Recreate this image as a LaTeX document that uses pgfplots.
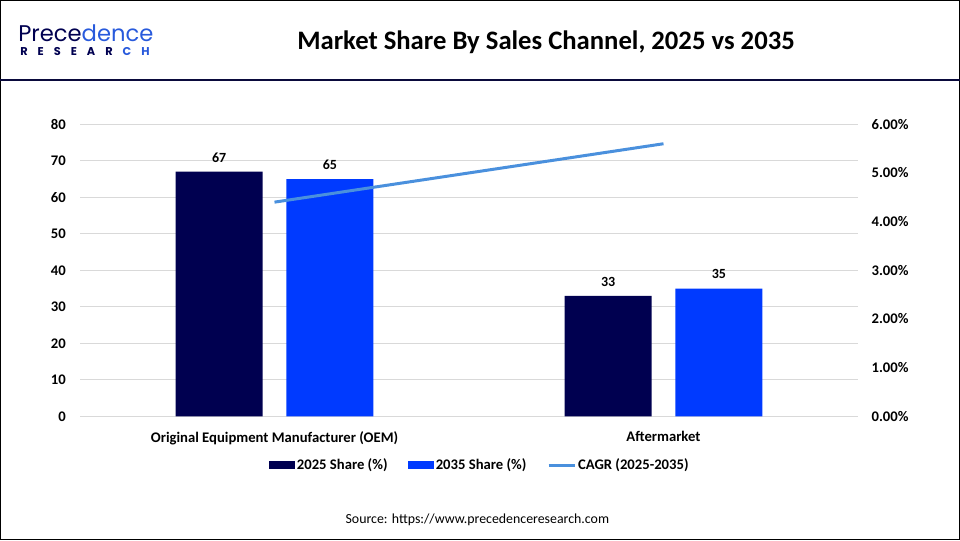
\documentclass[border=0pt]{standalone}
\usepackage{pgfplots}
\pgfplotsset{compat=1.18}
\usepackage{fontspec}
\setmainfont{Carlito}
\newfontfamily\logofont{Poppins}
\definecolor{navy}{RGB}{0,0,80}
\definecolor{brightblue}{RGB}{0,58,255}
\definecolor{linecol}{RGB}{74,144,221}
\definecolor{gridgray}{RGB}{217,217,217}
\definecolor{hdr}{RGB}{10,10,60}
\definecolor{logoblue}{RGB}{40,90,220}
\begin{document}
\begin{tikzpicture}
\useasboundingbox (0pt,0pt) rectangle (720pt,405pt);
\draw[black,line width=0.9pt] (0.45pt,0.45pt) rectangle (719.55pt,404.55pt);
\draw[hdr,line width=1.5pt] (0pt,345pt) -- (720pt,345pt);
% logo
\node[anchor=west,inner sep=0pt,font=\logofont\fontsize{17}{18}\selectfont] at (13.5pt,380pt) {\textcolor{navy}{Prece}\textcolor{logoblue}{dence}};
\node[anchor=west,inner sep=0pt,font=\logofont\bfseries\fontsize{8.5}{9}\selectfont] at (15pt,366pt) {\makebox[97pt][s]{\textcolor{navy}{R\hfill E\hfill S\hfill E\hfill A\hfill R\hfill}\textcolor{logoblue}{C\hfill H}}};
% title
\node[font=\bfseries\fontsize{20}{24}\selectfont] at (409.5pt,373.5pt) {Market Share By Sales Channel, 2025 vs 2035};
% source
\node[font=\fontsize{10.4}{12}\selectfont] at (358pt,15pt) {Source: https://www.precedenceresearch.com};
\begin{axis}[
  at={(60pt,92.8pt)}, anchor=south west,
  scale only axis, width=583.5pt, height=219pt,
  xmin=-0.5, xmax=1.5, ymin=0, ymax=80,
  ytick={0,10,...,80},
  xtick={0,1},
  xticklabels={Original Equipment Manufacturer (OEM), Aftermarket},
  axis line style={draw=none},
  major tick length=0pt,
  ymajorgrids, grid style={gridgray,line width=0.75pt},
  /pgf/number format/assume math mode=true,
  ticklabel style={font=\bfseries\fontsize{11}{13}\selectfont},
  yticklabel style={inner sep=0pt,xshift=-10.5pt},
  xticklabel style={inner sep=0pt,yshift=-11pt},
  ybar, bar width=0.2237,
  nodes near coords,
  every node near coord/.append style={font=\bfseries\fontsize{10.5}{12}\selectfont,inner sep=0pt,yshift=7pt,black},
]
\addplot[fill=navy,draw=none,bar shift=-0.1423] coordinates {(0,67) (1,33)};
\addplot[fill=brightblue,draw=none,bar shift=0.1423] coordinates {(0,65) (1,35)};
\end{axis}
\begin{axis}[
  at={(60pt,92.8pt)}, anchor=south west,
  scale only axis, width=583.5pt, height=219pt,
  xmin=-0.5, xmax=1.5, ymin=0, ymax=6,
  ytick={0,1,...,6},
  xtick=\empty,
  axis y line*=right, axis x line=none,
  axis line style={draw=none},
  major tick length=0pt,
  /pgf/number format/assume math mode=true,
  ticklabel style={font=\bfseries\fontsize{11}{13}\selectfont},
  yticklabel style={inner sep=0pt,xshift=10pt},
  yticklabel={\pgfmathprintnumber[fixed,fixed zerofill,precision=2]{\tick}\%},
  legend columns=3,
  legend style={at={(axis description cs:0.5141,-0.1669)},anchor=center,draw=none,
    font=\bfseries\fontsize{11}{13}\selectfont,
    /tikz/every even column/.append style={column sep=14pt},
    inner sep=0pt, nodes={inner sep=1.5pt}},
]
\addlegendimage{legend image code/.code={\fill[navy] (0pt,-2.6pt) rectangle (18.75pt,2.6pt);}}
\addlegendentry{2025 Share (\%)}
\addlegendimage{legend image code/.code={\fill[brightblue] (0pt,-2.6pt) rectangle (18.75pt,2.6pt);}}
\addlegendentry{2035 Share (\%)}
\addplot[linecol,line width=2.25pt,mark=none,legend image code/.code={\draw[linecol,line width=2.25pt] (0pt,0pt) -- (19.5pt,0pt);}] coordinates {(0,4.4) (1,5.6)};
\addlegendentry{CAGR (2025-2035)}
\end{axis}
\end{tikzpicture}
\end{document}
